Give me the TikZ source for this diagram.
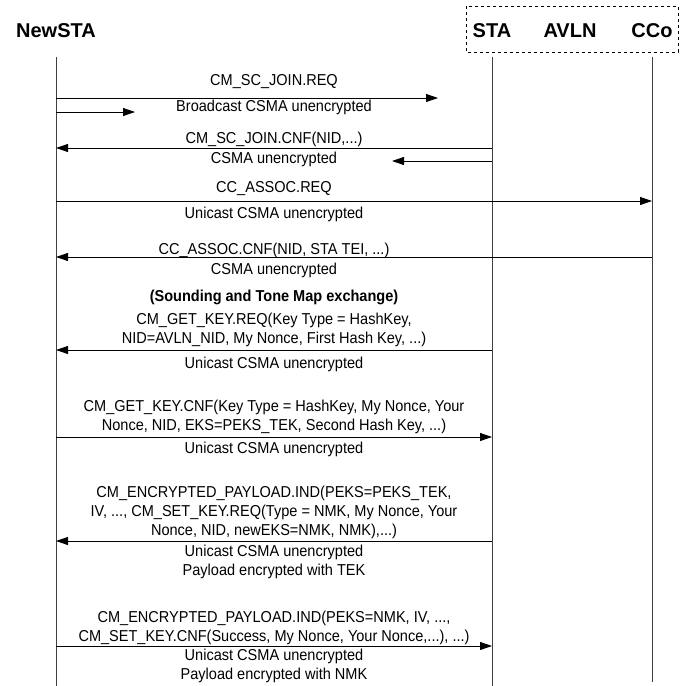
\documentclass[tikz,border=0pt]{standalone}
\usepackage{fontspec}
\setmainfont{Liberation Sans}
\newfontfamily\msgfont[FakeStretch=0.92]{Liberation Sans}
\usetikzlibrary{arrows.meta}
\begin{document}
\begin{tikzpicture}[x=1pt,y=-1pt,
		head/.style={font=\fontsize{20}{24}\selectfont\bfseries,inner sep=0pt},
		msg/.style={font=\msgfont\fontsize{15.8}{19}\selectfont,align=center,inner sep=0pt},
		life/.style={line width=0.8pt,draw=black!75},
		sig/.style={line width=0.8pt,-{Triangle[length=12pt,width=8pt]}}]
			\useasboundingbox (0,0) rectangle (686,686);
			\node[head](newsta) at (56,31) {NewSTA};
			\node[head](sta) at (492,31) {STA};
			\node[head](avln) at (570,31) {AVLN};
			\node[head](cco) at (652,31) {CCo};
			\draw[dashed,line width=0.6pt] (466,6) rectangle (678,52);
			\coordinate (nTop) at (56,57);
			\coordinate (nBot) at (56,686);
			\coordinate (sTop) at (492,57);
			\coordinate (sBot) at (492,686);
			\coordinate (cTop) at (652,57);
			\coordinate (cBot) at (652,682);
			\draw[life] (nTop) -- (nBot);
			\draw[life] (sTop) -- (sBot);
			\draw[life] (cTop) -- (cBot);
			\foreach \y/\k in {98/a,112/a2,148/b,161/b2,201/c,257/d,350/e,437/f,541/g,646/h}{
				\coordinate (n\k) at (56,\y);
				\coordinate (s\k) at (492,\y);
				\coordinate (c\k) at (652,\y);
			}
			\coordinate (aEnd) at (438,98);
			\coordinate (a2End) at (135,112);
			\coordinate (b2End) at (392,161);
			\draw[sig] (na) -- (aEnd);
			\draw[sig] (na2) -- (a2End);
			\draw[sig] (sb) -- (nb);
			\draw[sig] (sb2) -- (b2End);
			\draw[sig] (nc) -- (cc);
			\draw[sig] (cd) -- (nd);
			\draw[sig] (se) -- (ne);
			\draw[sig] (nf) -- (sf);
			\draw[sig] (sg) -- (ng);
			\draw[sig] (nh) -- (sh);
			\node[msg](joinreq) at (274,82) {CM\_SC\_JOIN.REQ};
			\node[msg](joinreqnote) at (274,107) {Broadcast CSMA unencrypted};
			\node[msg](joincnf) at (274,139) {CM\_SC\_JOIN.CNF(NID,...)};
			\node[msg](joincnfnote) at (274,159) {CSMA unencrypted};
			\node[msg](assocreq) at (274,189) {CC\_ASSOC.REQ};
			\node[msg](assocreqnote) at (274,214) {Unicast CSMA unencrypted};
			\node[msg](assoccnf) at (274,250) {CC\_ASSOC.CNF(NID, STA TEI, ...)};
			\node[msg](assoccnfnote) at (274,270) {CSMA unencrypted};
			\node[msg,font=\msgfont\fontsize{15.8}{19}\selectfont\bfseries](sounding) at (274,297) {(Sounding and Tone Map exchange)};
			\node[msg](getkeyreq) at (274,330) {CM\_GET\_KEY.REQ(Key Type = HashKey,\\NID=AVLN\_NID, My Nonce, First Hash Key, ...)};
			\node[msg](getkeyreqnote) at (274,364) {Unicast CSMA unencrypted};
			\node[msg](getkeycnf) at (274,417) {CM\_GET\_KEY.CNF(Key Type = HashKey, My Nonce, Your\\Nonce, NID, EKS=PEKS\_TEK, Second Hash Key, ...)};
			\node[msg](getkeycnfnote) at (274,449) {Unicast CSMA unencrypted};
			\node[msg](setkeyreq) at (274,512) {CM\_ENCRYPTED\_PAYLOAD.IND(PEKS=PEKS\_TEK,\\IV, ..., CM\_SET\_KEY.REQ(Type = NMK, My Nonce, Your\\Nonce, NID, newEKS=NMK, NMK),...)};
			\node[msg](setkeyreqnote) at (274,562) {Unicast CSMA unencrypted\\Payload encrypted with TEK};
			\node[msg](setkeycnf) at (274,628) {CM\_ENCRYPTED\_PAYLOAD.IND(PEKS=NMK, IV, ...,\\CM\_SET\_KEY.CNF(Success, My Nonce, Your Nonce,...), ...)};
			\node[msg](setkeycnfnote) at (274,666) {Unicast CSMA unencrypted\\Payload encrypted with NMK};
		\end{tikzpicture}
\end{document}
